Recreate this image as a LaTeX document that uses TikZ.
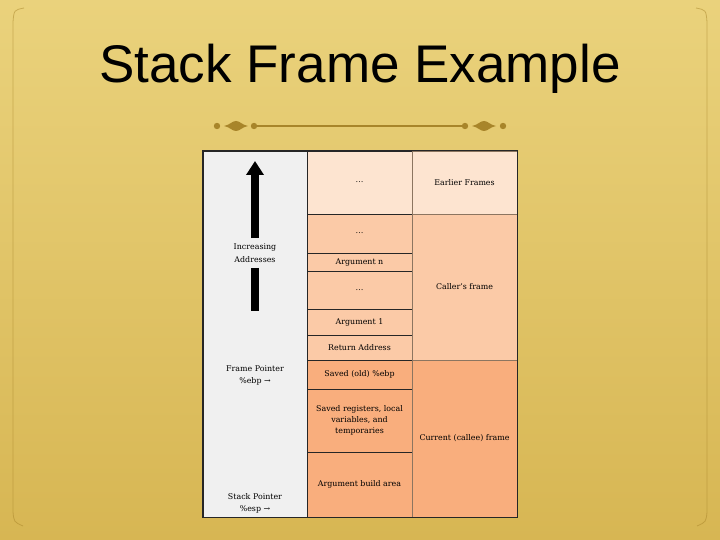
\documentclass[tikz,border=0pt]{standalone}
\usepackage{fontspec}
\setmainfont{DejaVu Serif}
\newfontfamily\titlefont{Liberation Sans}
\usetikzlibrary{arrows.meta}
\definecolor{slidetop}{HTML}{EAD27C}
\definecolor{slidebot}{HTML}{D7B653}
\definecolor{ornament}{HTML}{A8852A}
\definecolor{earlier}{HTML}{FDE4D0}
\definecolor{caller}{HTML}{FBCAA7}
\definecolor{callee}{HTML}{F9AE7D}
\definecolor{leftcol}{HTML}{F0F0F0}
\definecolor{rightline}{HTML}{8C7560}
\tikzset{
	cell/.style={draw=black!85, line width=0.9pt, align=center, inner sep=0pt, minimum width=105pt, font=\fontsize{7.9}{10.8}\selectfont},
	frame/.style={cell, draw=rightline},
	pointer/.style={align=center, font=\fontsize{7.9}{11.5}\selectfont},
	dot/.style={fill=ornament}
}
\begin{document}
\begin{tikzpicture}[x=1pt, y=-1pt]
	\shade[top color=slidetop, bottom color=slidebot] (0, 0) rectangle (720, 540);
	\useasboundingbox (0, 0) rectangle (720, 540);
	\draw[ornament, opacity=0.5, line width=0.8] (24, 8) .. controls (14, 10) .. (13, 22) -- (13, 512) .. controls (14, 522) .. (23, 526);
	\draw[ornament, opacity=0.5, line width=0.8] (696, 8) .. controls (706, 10) .. (707, 22) -- (707, 512) .. controls (706, 522) .. (697, 526);
	\node[font=\titlefont\fontsize{53}{58}\selectfont] (title) at (360, 69) {Stack Frame Example};
	\coordinate (orn1) at (217, 126);
	\coordinate (orn2) at (254, 126);
	\coordinate (orn3) at (465, 126);
	\coordinate (orn4) at (503, 126);
	\draw[ornament, line width=1.8] (orn2) -- (orn3);
	\foreach \p in {orn1, orn2, orn3, orn4}
		\fill[dot] (\p) circle (3.2);
	\foreach \cx in {236, 484}
		\fill[dot] (\cx-12, 126) .. controls (\cx-6, 125) and (\cx-4, 121) .. (\cx, 121) .. controls (\cx+4, 121) and (\cx+6, 125) .. (\cx+12, 126) .. controls (\cx+6, 127) and (\cx+4, 131) .. (\cx, 131) .. controls (\cx-4, 131) and (\cx-6, 127) .. cycle;
	\node[cell, fill=leftcol, minimum width=104pt, minimum height=366pt] (addr) at (255, 334) {};
	\node[cell, fill=earlier, minimum height=63pt] (mtop) at (359.5, 182.5) {\dots};
	\node[cell, fill=caller, minimum height=39pt] (mdots1) at (359.5, 233.5) {\dots};
	\node[cell, fill=caller, minimum height=18pt] (argn) at (359.5, 262) {Argument n};
	\node[cell, fill=caller, minimum height=38pt] (mdots2) at (359.5, 290) {\dots};
	\node[cell, fill=caller, minimum height=26pt] (arg1) at (359.5, 322) {Argument 1};
	\node[cell, fill=caller, minimum height=25pt] (ret) at (359.5, 347.5) {Return Address};
	\node[cell, fill=callee, minimum height=29pt] (oldebp) at (359.5, 374.5) {Saved (old) \%ebp};
	\node[cell, fill=callee, minimum height=63pt] (locals) at (359.5, 420.5) {Saved registers, local\\variables, and\\temporaries};
	\node[cell, fill=callee, minimum height=65pt] (build) at (359.5, 484.5) {Argument build area};
	\node[frame, fill=earlier, minimum height=63pt] (earlier) at (464.5, 182.5) {Earlier Frames};
	\node[frame, fill=caller, minimum height=146pt] (callers) at (464.5, 287) {Caller's frame};
	\node[frame, fill=callee, minimum height=157pt] (current) at (464.5, 438.5) {Current (callee) frame};
	\draw[black!85, line width=0.9] (addr.north west) rectangle (current.south east);
	\node[pointer, font=\fontsize{7.9}{13}\selectfont] (incr) at (255, 253) {Increasing\\Addresses};
	\node[pointer] (fp) at (255, 375.5) {Frame Pointer\\\%ebp →};
	\node[pointer] (sp) at (255, 503.5) {Stack Pointer\\\%esp →};
	\coordinate (arrtip) at (255, 161);
	\coordinate (arrbase) at (255, 311);
	\draw[line width=8, -{Triangle[length=14pt, width=17pt]}] (incr.north) ++(0, -2) -- (arrtip);
	\draw[line width=8] (incr.south) ++(0, 2) -- (arrbase);
\end{tikzpicture}
\end{document}
